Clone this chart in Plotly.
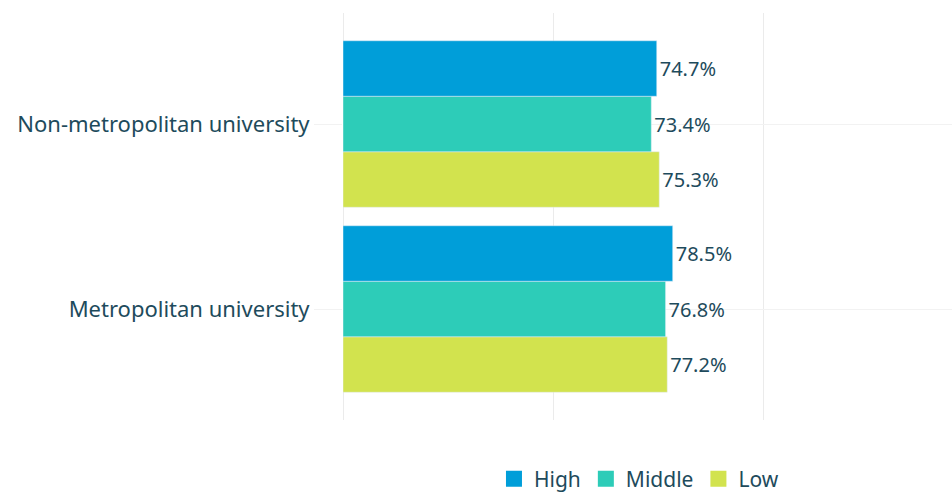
import plotly.graph_objects as go

categories = ["Metropolitan university", "Non-metropolitan university"]
high = [78.5, 74.7]
middle = [76.8, 73.4]
low = [77.2, 75.3]

colors = {"High": "#009ED9", "Middle": "#2DCCB8", "Low": "#D2E34E"}
txt = "#1E4B5C"
font = "Noto Sans"

fig = go.Figure()
for name, vals in [("Low", low), ("Middle", middle), ("High", high)]:
    fig.add_trace(go.Bar(
        y=categories, x=vals, name=name, orientation="h",
        marker=dict(color=colors[name]),
        text=[f"{v:.1f}%" for v in vals], textposition="outside",
        textfont=dict(size=20, color=txt, family=font),
        cliponaxis=False, showlegend=False,
    ))
# legend entries with large square swatches
for name in ["Low", "Middle", "High"]:
    fig.add_trace(go.Scatter(
        x=[None], y=[None], mode="markers", name=name,
        marker=dict(symbol="square", size=22, color=colors[name]),
        showlegend=True,
    ))

fig.update_layout(
    width=952, height=495,
    margin=dict(l=343, r=0, t=13, b=75, autoexpand=False),
    barmode="group", bargap=0.1, bargroupgap=0,
    plot_bgcolor="white", paper_bgcolor="white",
    font=dict(family=font, size=20, color=txt),
    legend=dict(orientation="h", traceorder="reversed", x=0.486, xanchor="center",
                y=-0.145, yanchor="middle", font=dict(size=21, color=txt),
                itemsizing="trace", itemwidth=30, tracegroupgap=0),
    showlegend=True,
)
fig.update_xaxes(range=[0, 145], showticklabels=False, showgrid=True,
                 gridcolor="#EBEBEB", dtick=50, zeroline=True,
                 zerolinecolor="#EBEBEB", zerolinewidth=1, ticks="")
fig.update_yaxes(range=[-0.6, 1.6], showgrid=True, gridcolor="#F2F2F2",
                 ticks="outside", ticklen=28, tickcolor="#F2F2F2",
                 tickfont=dict(size=22, color=txt))

fig.write_html("out.html")
